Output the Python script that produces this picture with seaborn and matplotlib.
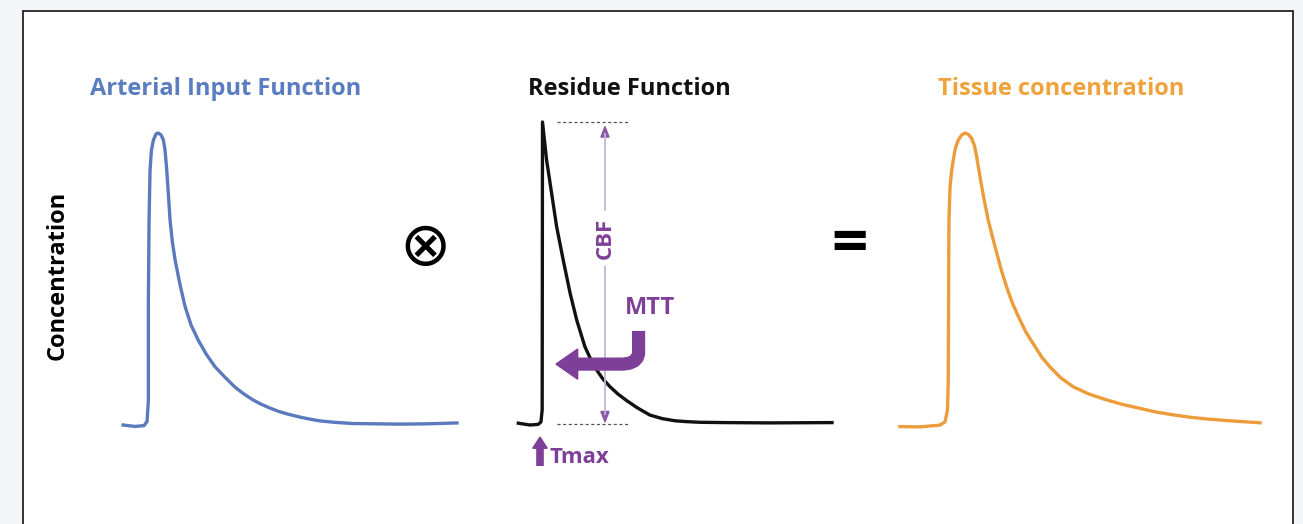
import numpy as np
import pandas as pd
import matplotlib.pyplot as plt
import seaborn as sns
from matplotlib.patches import Rectangle

# values (time 0-100 per panel, concentration relative to peak)
aif_time = [0, 3.6, 6.3, 7.2, 7.6, 7.6, 7.8, 8.1, 8.5, 9.1, 9.9, 10.6, 11.4, 12.1, 12.6,
            13.1, 13.6, 14.1, 14.8, 15.6, 17.1, 18.6, 20.4, 22.5, 24.9, 27.5, 30.5, 33.5,
            36.1, 38.9, 41.4, 44.0, 46.5, 49.1, 53.0, 56.0, 59.0, 63.5, 68.9, 76.0, 82.9,
            91.0, 100]
aif_conc = [0, -0.005, -0.002, 0.012, 0.086, 0.43, 0.70, 0.873, 0.94, 0.976, 0.997, 1.0,
            0.993, 0.976, 0.94, 0.873, 0.788, 0.70, 0.625, 0.565, 0.479, 0.405, 0.342,
            0.291, 0.243, 0.20, 0.164, 0.130, 0.107, 0.086, 0.071, 0.058, 0.047, 0.038,
            0.027, 0.020, 0.014, 0.009, 0.005, 0.004, 0.003, 0.004, 0.007]

res_time = [0.1, 3.8, 6.4, 7.3, 7.7, 7.8, 9.1, 10.7, 12.3, 14.4, 16.6, 18.7, 21.3, 23.2,
            25.1, 27.0, 29.3, 31.8, 34.6, 38.0, 42.0, 46.0, 50.0, 54.0, 58.0, 66.0, 80.0,
            100]
res_conc = [0.001, -0.005, -0.003, 0.005, 0.045, 1.0, 0.874, 0.764, 0.653, 0.542, 0.432,
            0.343, 0.255, 0.212, 0.177, 0.148, 0.122, 0.098, 0.076, 0.052, 0.028, 0.016,
            0.009, 0.006, 0.004, 0.003, 0.002, 0.003]

tis_time = [0, 5.6, 11.1, 12.5, 13.2, 13.4, 13.5, 13.6, 13.9, 14.3, 14.8, 15.4, 16.2, 17.1,
            18.1, 19.0, 19.9, 20.7, 21.3, 21.9, 22.7, 23.6, 24.5, 25.7, 26.9, 28.2, 29.6,
            31.2, 32.9, 35.0, 37.5, 39.5, 41.7, 44.6, 48.1, 52.5, 57.4, 62.0, 66.7, 71.0,
            75.9, 80.5, 85.2, 92.5, 100]
tis_conc = [-0.002, -0.003, 0.003, 0.014, 0.055, 0.157, 0.43, 0.703, 0.816, 0.867, 0.908,
            0.949, 0.976, 0.993, 1.0, 0.995, 0.982, 0.956, 0.919, 0.874, 0.817, 0.758,
            0.703, 0.645, 0.589, 0.530, 0.475, 0.420, 0.373, 0.320, 0.271, 0.233, 0.201,
            0.165, 0.134, 0.109, 0.089, 0.073, 0.060, 0.048, 0.038, 0.030, 0.024, 0.017,
            0.011]

titles = ["Arterial Input Function", "Residue Function", "Tissue concentration"]
title_x = [226, 629, 1061]
colors = ["#5b79bd", "#111111", "#ec9c3a"]
title_colors = ["#5a7cc0", "#111111", "#f0a23c"]
purple = "#7e3f98"

W, H = 1303, 524
fig = plt.figure(figsize=(W / 100, H / 100), dpi=100)
fig.patch.set_facecolor("#f3f6f8")
fig.patches.append(Rectangle((23 / W, -0.05), (1293 - 23) / W, 1 - 11 / H + 0.05,
                             transform=fig.transFigure, facecolor="white",
                             edgecolor="#111111", linewidth=1.2, zorder=-5))

# panel placement in pixels: left (t=0), right (t=100), baseline (c=0), peak (c=1)
boxes = [(123, 457, 425, 133), (518, 832, 423.5, 122), (900, 1260, 426, 133)]
series = [(aif_time, aif_conc), (res_time, res_conc), (tis_time, tis_conc)]
font = "Open Sans"

axes = []
for (x0, x1, yb, yp), (t, c), col, title, tx, tcol in zip(boxes, series, colors, titles,
                                                          title_x, title_colors):
    ax = fig.add_axes([x0 / W, 1 - yb / H, (x1 - x0) / W, (yb - yp) / H], zorder=2)
    ax.set_xlim(0, 100)
    ax.set_ylim(0, 1)
    df = pd.DataFrame({"time": t, "conc": c})
    sns.lineplot(data=df, x="time", y="conc", sort=False, estimator=None,
                 color=col, linewidth=2.4, ax=ax)
    ax.lines[-1].set_clip_on(False)
    ax.lines[-1].set_solid_joinstyle("round")
    ax.set_axis_off()
    fig.text(tx / W, 1 - 89 / H, title, color=tcol, fontsize=17,
             fontweight="bold", family=font, ha="center", va="center")
    axes.append(ax)

fig.text(58 / W, 1 - 275 / H, "Concentration", rotation=90, fontsize=17,
         fontweight="bold", family=font, ha="center", va="center")
fig.text(425 / W, 1 - 248 / H, "\u2297", fontsize=44, family="DejaVu Sans",
         ha="center", va="center")
fig.text(850 / W, 1 - 243 / H, "=", fontsize=50, fontweight="black", family="Lato",
         ha="center", va="center")

# annotations on the residue function
ax = axes[1]
for yy in (1.0, 0.0):
    ax.plot([12.4, 35.7], [yy, yy], color="#555555", linewidth=0.9,
            linestyle=(0, (2.5, 2)), clip_on=False)
ax.plot([27.7, 27.7], [0.03, 0.96], color="#c7b5d6", linewidth=1.3, clip_on=False)
ax.arrow(27.7, 0.95, 0, 0.035, width=0, head_width=2.6, head_length=0.035,
         length_includes_head=True, color="#8a5aa6", clip_on=False)
ax.arrow(27.7, 0.04, 0, -0.035, width=0, head_width=2.6, head_length=0.035,
         length_includes_head=True, color="#8a5aa6", clip_on=False)
ax.text(27.7, 0.615, "CBF", rotation=90, color=purple, fontsize=16, fontweight="bold",
        family=font, ha="center", va="center",
        bbox=dict(facecolor="white", edgecolor="none", pad=5))
ax.text(41.9, 0.384, "MTT", color=purple, fontsize=17, fontweight="bold", family=font,
        ha="center", va="center")
ax.plot([38.4, 38.4, 38.0, 37.0, 35.5, 33.5, 18.0],
        [0.307, 0.232, 0.218, 0.207, 0.200, 0.197, 0.197], color=purple, linewidth=9.5,
        solid_joinstyle="round", solid_capstyle="butt", clip_on=False)
ax.arrow(19.0, 0.197, -6.9, 0, width=0, head_width=0.10, head_length=6.9,
         length_includes_head=True, color=purple, clip_on=False)
ax.plot([7.0, 7.0], [-0.142, -0.075], color=purple, linewidth=5.5,
        solid_capstyle="butt", clip_on=False)
ax.arrow(7.0, -0.082, 0, 0.037, width=0, head_width=4.6, head_length=0.037,
         length_includes_head=True, color=purple, clip_on=False)
ax.text(10.0, -0.112, "Tmax", color=purple, fontsize=16, fontweight="bold",
        family=font, ha="left", va="center")

fig.savefig("out.png", dpi=100, facecolor=fig.get_facecolor())
